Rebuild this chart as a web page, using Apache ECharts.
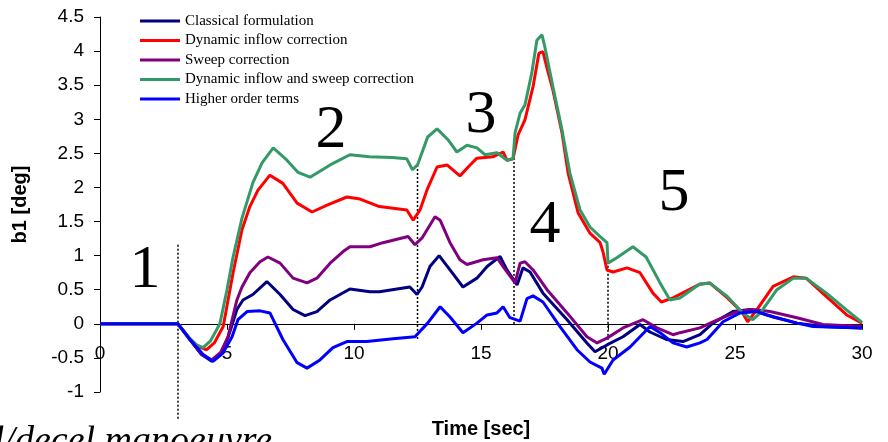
<!DOCTYPE html>
<html>
<head>
<meta charset="utf-8">
<script src="https://cdn.jsdelivr.net/npm/echarts@6/dist/echarts.min.js"></script>
<style>html,body{margin:0;padding:0;background:#fff;}#c{width:888px;height:442px;}</style>
</head>
<body>
<div id="c"></div>
<script>
var seriesNames = ['Classical formulation','Dynamic inflow correction','Sweep correction','Dynamic inflow and sweep correction','Higher order terms'];
var xTicks = [0, 5, 10, 15, 20, 25, 30];
var yTicks = [-1, -0.5, 0, 0.5, 1, 1.5, 2, 2.5, 3, 3.5, 4, 4.5];
var phaseLabels = ['1','2','3','4','5'];
var phaseTimes = [3.07, 12.5, 16.3, 20.0];

var classical = [[0,0],[3.07,0],[3.54,-0.23],[4.0,-0.45],[4.4,-0.55],[4.75,-0.45],[5.04,-0.2],[5.39,0.21],[5.63,0.35],[6.02,0.43],[6.57,0.62],[7.09,0.43],[7.6,0.21],[8.07,0.12],[8.54,0.18],[9.06,0.35],[9.84,0.51],[10.63,0.47],[11.0,0.47],[12.2,0.54],[12.48,0.43],[12.68,0.54],[12.99,0.84],[13.35,1.00],[13.78,0.79],[14.29,0.54],[14.84,0.67],[15.24,0.84],[15.75,0.99],[16.02,0.79],[16.42,0.57],[16.65,0.82],[16.93,0.76],[17.44,0.45],[18.39,0.06],[19.17,-0.28],[19.49,-0.41],[19.96,-0.31],[20.59,-0.19],[21.26,-0.01],[21.65,-0.12],[22.3,-0.23],[22.95,-0.26],[23.62,-0.16],[24.13,0.01],[24.92,0.18],[25.6,0.21],[26.26,0.13],[27.44,0.01],[28.46,-0.04],[30,-0.06]];
var dynInflow = [[0,0],[3.07,0],[3.5,-0.2],[3.85,-0.33],[4.2,-0.38],[4.5,-0.28],[4.85,-0.04],[5.24,0.75],[5.59,1.38],[5.9,1.72],[6.22,1.96],[6.69,2.18],[7.2,2.06],[7.76,1.77],[8.35,1.64],[8.94,1.74],[9.72,1.86],[10.24,1.83],[11.0,1.72],[12.08,1.67],[12.33,1.52],[12.6,1.67],[12.87,1.96],[13.27,2.30],[13.66,2.33],[14.17,2.17],[14.57,2.33],[14.84,2.43],[15.47,2.45],[15.87,2.52],[16.02,2.40],[16.26,2.42],[16.46,2.77],[16.73,2.99],[17.05,3.48],[17.28,3.97],[17.44,3.99],[17.6,3.75],[17.83,3.43],[18.19,2.80],[18.43,2.21],[18.82,1.63],[19.29,1.33],[19.69,1.19],[19.8,1.06],[19.96,0.79],[20.2,0.76],[20.75,0.82],[21.26,0.75],[21.77,0.45],[22.1,0.32],[22.56,0.38],[23.6,0.58],[24.0,0.60],[24.7,0.38],[25.3,0.16],[25.5,0.03],[25.85,0.2],[26.5,0.55],[27.3,0.69],[27.8,0.67],[28.6,0.40],[29.4,0.13],[30,0.01]];
var sweep = [[0,0],[3.07,0],[3.54,-0.23],[4.0,-0.45],[4.4,-0.53],[4.75,-0.42],[5.04,-0.19],[5.39,0.35],[5.59,0.54],[5.9,0.75],[6.3,0.91],[6.61,0.98],[7.09,0.89],[7.6,0.67],[8.15,0.60],[8.54,0.67],[9.06,0.89],[9.57,1.06],[9.84,1.13],[10.63,1.13],[11.14,1.19],[12.13,1.28],[12.4,1.16],[12.68,1.26],[13.19,1.57],[13.39,1.52],[13.78,1.19],[14.17,0.94],[14.45,0.87],[15.08,0.94],[15.63,0.97],[15.87,0.84],[16.34,0.60],[16.54,0.89],[16.73,0.91],[17.05,0.79],[17.6,0.50],[18.39,0.16],[19.17,-0.19],[19.57,-0.28],[19.96,-0.21],[20.59,-0.06],[21.38,0.06],[21.93,-0.06],[22.56,-0.16],[22.83,-0.13],[23.62,-0.06],[24.13,0.03],[25.08,0.18],[25.7,0.21],[26.38,0.18],[27.44,0.09],[28.46,-0.01],[30,-0.04]];
var dynSweep = [[0,0],[3.07,0],[3.5,-0.2],[3.8,-0.31],[4.06,-0.35],[4.35,-0.25],[4.72,0],[5.0,0.5],[5.24,0.98],[5.59,1.55],[6.02,2.07],[6.38,2.36],[6.82,2.58],[7.36,2.40],[7.8,2.22],[8.27,2.15],[9.06,2.33],[9.84,2.48],[10.6,2.45],[11.5,2.44],[12.08,2.42],[12.3,2.26],[12.5,2.33],[12.9,2.74],[13.27,2.86],[13.7,2.70],[14.05,2.52],[14.45,2.62],[14.84,2.58],[15.16,2.48],[15.63,2.51],[16.02,2.40],[16.26,2.42],[16.34,2.80],[16.54,3.09],[16.73,3.21],[17.0,3.68],[17.2,4.16],[17.4,4.24],[17.52,4.05],[17.83,3.48],[18.19,2.84],[18.5,2.21],[18.9,1.67],[19.29,1.42],[19.69,1.28],[19.96,1.19],[20.0,0.89],[20.35,0.97],[20.98,1.13],[21.5,0.98],[22.05,0.60],[22.44,0.35],[22.83,0.38],[23.6,0.58],[24.0,0.60],[24.7,0.40],[25.3,0.16],[25.7,0.06],[26.0,0.16],[26.65,0.50],[27.3,0.67],[27.8,0.67],[28.6,0.45],[29.4,0.20],[30,0.02]];
var higherOrder = [[0,0],[3.07,0],[3.54,-0.23],[4.06,-0.45],[4.45,-0.55],[4.84,-0.43],[5.2,-0.19],[5.43,0.06],[5.79,0.18],[6.3,0.19],[6.69,0.16],[7.2,-0.23],[7.76,-0.57],[8.15,-0.65],[8.66,-0.53],[9.17,-0.35],[9.72,-0.26],[10.5,-0.26],[11.54,-0.22],[12.4,-0.19],[12.9,0.01],[13.39,0.25],[13.78,0.10],[14.29,-0.13],[14.84,0.01],[15.24,0.13],[15.63,0.16],[15.87,0.25],[16.14,0.09],[16.54,0.04],[16.81,0.37],[17.05,0.41],[17.44,0.32],[18.11,-0.04],[18.78,-0.38],[19.29,-0.56],[19.76,-0.65],[19.85,-0.74],[20.2,-0.53],[20.87,-0.34],[21.65,-0.04],[22.05,-0.13],[22.56,-0.28],[23.1,-0.34],[23.62,-0.28],[23.9,-0.23],[24.53,0.03],[25.2,0.16],[25.87,0.18],[26.5,0.10],[27.44,0.01],[28.07,-0.04],[30,-0.06]];

// vertical dotted phase separators: top and bottom values at each phase time
var separatorTop = [1.16, 2.33, 2.55, 0.91];
var separatorBottom = [-1.42, -0.23, -0.03, -0.25];

var colors = ['#000080','#FF0000','#800080','#339966','#0000FF'];
var dataSets = [classical, dynInflow, sweep, dynSweep, higherOrder];

var chart = echarts.init(document.getElementById('c'), null, {renderer:'canvas'});

var series = dataSets.map(function(d, i){
  return {
    name: seriesNames[i], type: 'line', data: d, showSymbol: false, symbol: 'none',
    clip: false, smooth: false,
    lineStyle: {color: colors[i], width: 3},
    itemStyle: {color: colors[i]},
    z: 2 + i
  };
});
phaseTimes.forEach(function(t, i){
  series.push({
    name: 'sep' + i, type: 'line', data: [[t, separatorTop[i]], [t, separatorBottom[i]]],
    showSymbol: false, symbol: 'none', clip: false, silent: true,
    lineStyle: {color: '#000', type: [2, 2], width: 1.5}, z: 1
  });
});

var phasePos = [[145,271],[331,131],[481,116],[545,226],[674,194]];

var gridTop = 17, gridBottom = 50, chartH = 442;
var yMin = -1, yMax = 4.5;
// distance from bottom of grid to the zero line, so the x axis sits on y = 0
var zeroOffset = (chartH - gridTop - gridBottom) * (0 - yMin) / (yMax - yMin);

chart.setOption({
  animation: false,
  backgroundColor: '#fff',
  grid: {left: 100, right: 26, top: gridTop, bottom: gridBottom, containLabel: false, outerBoundsMode: 'none'},
  legend: {
    orient: 'vertical', left: 135, top: 8,
    itemWidth: 40, itemHeight: 3, itemGap: 3.5, icon: 'rect',
    data: seriesNames,
    textStyle: {fontFamily: 'Liberation Serif', fontSize: 15, color: '#000', lineHeight: 16, padding: [0,0,0,0]}
  },
  xAxis: {
    type: 'value', min: 0, max: 30, interval: 5, position: 'bottom', offset: -zeroOffset,
    name: 'Time [sec]', nameLocation: 'middle', nameGap: 96,
    nameTextStyle: {fontFamily: 'Liberation Sans', fontWeight: 'bold', fontSize: 20, color: '#000'},
    axisLine: {show: true, onZero: false, lineStyle: {color: '#000', width: 1}},
    axisTick: {show: true, length: 6, lineStyle: {color: '#000'}},
    axisLabel: {margin: 20, fontFamily: 'Liberation Sans', fontSize: 19, color: '#000',
      formatter: function(v){ return xTicks.indexOf(v) >= 0 ? String(v) : ''; }},
    splitLine: {show: false}
  },
  yAxis: {
    type: 'value', min: yMin, max: yMax, interval: 0.5,
    name: 'b1 [deg]', nameLocation: 'middle', nameGap: 70,
    nameTextStyle: {fontFamily: 'Liberation Sans', fontWeight: 'bold', fontSize: 20, color: '#000'},
    axisLine: {show: true, onZero: false, lineStyle: {color: '#000', width: 1}},
    axisTick: {show: true, length: 6, lineStyle: {color: '#000'}},
    axisLabel: {margin: 16, fontFamily: 'Liberation Sans', fontSize: 19, color: '#000',
      formatter: function(v){ return yTicks.indexOf(v) >= 0 ? String(v) : ''; }},
    splitLine: {show: false}
  },
  graphic: phaseLabels.map(function(t, i){
    return {type: 'text', x: phasePos[i][0], y: phasePos[i][1], z: 100,
      style: {text: t, font: '62px "Liberation Serif"', fill: '#000', textAlign: 'center', textVerticalAlign: 'middle'}};
  }).concat([{
    type: 'text', x: -80, y: 461, z: 100,
    style: {text: 'Accel/decel manoeuvre', font: 'italic 38px "Liberation Serif"', fill: '#000', textAlign: 'left', textVerticalAlign: 'bottom'}
  }]),
  series: series
});
</script>
</body>
</html>
